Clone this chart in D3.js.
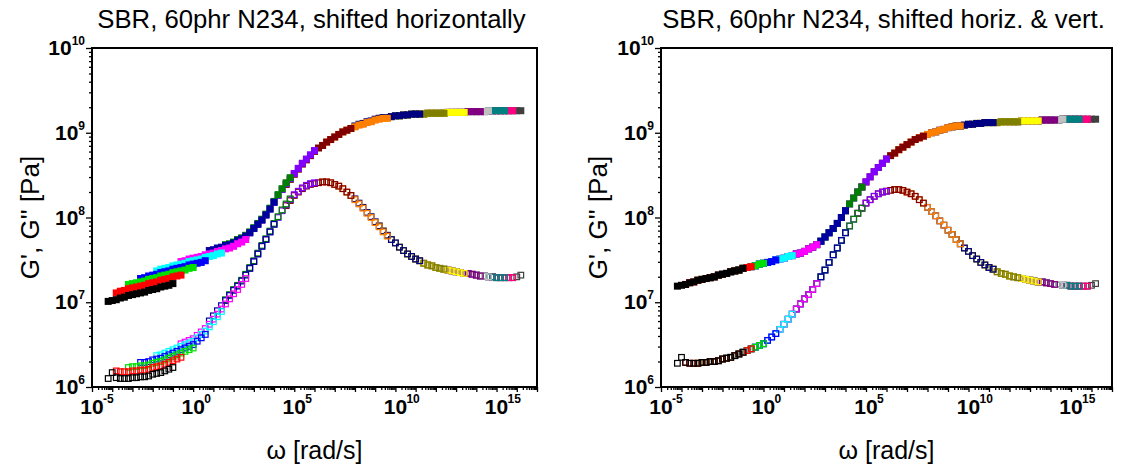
<!DOCTYPE html>
<html>
<head>
<meta charset="utf-8">
<script src="https://cdn.jsdelivr.net/npm/d3@7"></script>
<style>
  body { margin: 0; background: #fff; }
  svg { display: block; font-family: Arial, "Liberation Sans", sans-serif; }
</style>
</head>
<body>
<div id="chart"></div>
<script>
// measured frequencies, log10(rad/s), 5 points per decade
const logFreq = [-1.2, -1.0, -0.8, -0.6, -0.4, -0.2, 0.0, 0.2, 0.4, 0.6, 0.8, 1.0, 1.2, 1.4, 1.6, 1.8, 2.0];

// one segment per temperature
const segColors = ["#000000", "#ff0000", "#00e000", "#0000ff", "#00ffff", "#ff00ff", "#0000a0",
    "#008000", "#8000ff", "#800000", "#ff8000", "#000080", "#808000", "#ffff00",
    "#800080", "#c0c0c0", "#008080", "#ff0080", "#404040"];
// horizontal shift factor log(aT)
const logAT = [-3.0, -2.6, -2.0, -1.4, -0.6, 0.6, 2.0, 2.8, 4.0, 5.8, 7.6, 9.2, 10.4, 11.4, 12.2, 12.6, 13.4, 13.8, 14.2];
// vertical offset of the horizontally-only shifted data, log(1/bT)
const logBT = [-0.18, -0.10, -0.05, -0.01, 0.03, 0.06, 0.10, 0.11, 0.10, 0.09, 0.09, 0.10, 0.10, 0.10, 0.10, 0.10, 0.10, 0.10, 0.10];

// master curve (shifted horiz. & vert.), log values on the reduced frequency grid
const gridStart = -4.2, gridStep = 0.2;
const logStorage = [
    7.19, 7.20, 7.21, 7.23, 7.24, 7.26, 7.27, 7.28, 7.29, 7.30,
    7.32, 7.33, 7.34, 7.36, 7.37, 7.38, 7.40, 7.41, 7.42, 7.43,
    7.45, 7.46, 7.47, 7.48, 7.50, 7.51, 7.52, 7.54, 7.55, 7.57,
    7.58, 7.60, 7.63, 7.65, 7.68, 7.72, 7.77, 7.82, 7.87, 7.93,
    8.00, 8.08, 8.16, 8.23, 8.30, 8.36, 8.42, 8.48, 8.54, 8.59,
    8.64, 8.69, 8.73, 8.76, 8.80, 8.83, 8.86, 8.89, 8.92, 8.94,
    8.96, 8.98, 9.00, 9.01, 9.03, 9.04, 9.06, 9.07, 9.08, 9.08,
    9.09, 9.10, 9.10, 9.11, 9.11, 9.12, 9.12, 9.12, 9.12, 9.13,
    9.13, 9.13, 9.13, 9.13, 9.14, 9.14, 9.14, 9.14, 9.14, 9.15,
    9.15, 9.15, 9.15, 9.15, 9.16, 9.16, 9.16, 9.16, 9.16, 9.16,
    9.16, 9.16, 9.16];
const logLoss = [
    6.28, 6.35, 6.29, 6.28, 6.28, 6.28, 6.29, 6.29, 6.30, 6.30,
    6.31, 6.33, 6.34, 6.35, 6.37, 6.39, 6.41, 6.43, 6.45, 6.47,
    6.49, 6.51, 6.55, 6.59, 6.63, 6.68, 6.74, 6.80, 6.86, 6.92,
    6.98, 7.04, 7.09, 7.15, 7.22, 7.30, 7.38, 7.47, 7.56, 7.64,
    7.73, 7.82, 7.90, 7.98, 8.05, 8.11, 8.17, 8.21, 8.25, 8.28,
    8.30, 8.31, 8.32, 8.33, 8.33, 8.32, 8.30, 8.28, 8.25, 8.21,
    8.17, 8.12, 8.07, 8.02, 7.96, 7.91, 7.85, 7.80, 7.74, 7.69,
    7.64, 7.60, 7.55, 7.51, 7.47, 7.44, 7.41, 7.39, 7.36, 7.34,
    7.33, 7.31, 7.30, 7.29, 7.28, 7.27, 7.26, 7.25, 7.24, 7.24,
    7.23, 7.22, 7.21, 7.21, 7.20, 7.20, 7.19, 7.19, 7.19, 7.19,
    7.19, 7.20, 7.22];

const xDecades = d3.range(-5, 18);
const xLabelled = [-5, 0, 5, 10, 15];
const yDecades = [6, 7, 8, 9, 10];

const panels = [
    { left: 92, right: 537, title: "SBR, 60phr N234, shifted horizontally", vertical: false, ylabX: 30 },
    { left: 661, right: 1112, title: "SBR, 60phr N234, shifted horiz. & vert.", vertical: true, ylabX: 598 }
];
const plotTop = 48, plotBottom = 387;

const svg = d3.select("#chart").append("svg")
    .attr("width", 1121)
    .attr("height", 468);

panels.forEach(function(p) {
    const x = d3.scaleLog().domain([1e-5, 1e17]).range([p.left, p.right]);
    const y = d3.scaleLog().domain([1e6, 1e10]).range([plotBottom, plotTop]);
    const g = svg.append("g");

    // build the points of each temperature segment
    const segs = segColors.map(function(c, i) {
        return logFreq.map(function(f) {
            const w = f + logAT[i];
            const k = Math.round((w - gridStart) / gridStep);
            const off = p.vertical ? 0 : logBT[i];
            return { w: w, gp: logStorage[k] + off, gpp: logLoss[k] + off };
        });
    });

    // earlier (colder) segments end up on top
    for (let i = segs.length - 1; i >= 0; i--) {
        g.append("g").selectAll("rect")
            .data(segs[i]).join("rect")
            .attr("x", d => x(Math.pow(10, d.w)) - 2.8)
            .attr("y", d => y(Math.pow(10, d.gpp)) - 2.8)
            .attr("width", 5.6).attr("height", 5.6)
            .attr("fill", "none")
            .attr("stroke", segColors[i])
            .attr("stroke-width", 1.2);
    }
    for (let i = segs.length - 1; i >= 0; i--) {
        g.append("g").selectAll("rect")
            .data(segs[i]).join("rect")
            .attr("x", d => x(Math.pow(10, d.w)) - 3.5)
            .attr("y", d => y(Math.pow(10, d.gp)) - 3.5)
            .attr("width", 7).attr("height", 7)
            .attr("fill", segColors[i]);
    }

    // x ticks
    const minorX = [];
    xDecades.forEach(function(d) {
        if (d < 17) for (let m = 2; m < 10; m++) minorX.push(m * Math.pow(10, d));
    });
    g.append("g").attr("transform", `translate(0,${plotBottom})`)
        .call(d3.axisBottom(x).tickValues(minorX).tickSize(3).tickFormat(""))
        .call(a => a.select(".domain").remove());
    g.append("g").attr("transform", `translate(0,${plotBottom})`)
        .call(d3.axisBottom(x).tickValues(xDecades.map(d => Math.pow(10, d))).tickSize(5).tickFormat(""))
        .call(a => a.select(".domain").remove());

    xLabelled.forEach(function(d) {
        const px = x(Math.pow(10, d));
        g.append("text").attr("x", px).attr("y", 414)
            .attr("text-anchor", "middle")
            .attr("font-size", 21).attr("font-weight", "bold")
            .text("10");
        g.append("text").attr("x", px + 11).attr("y", 403)
            .attr("font-size", 12).attr("font-weight", "bold")
            .text(d);
    });

    // y ticks
    const minorY = [];
    yDecades.forEach(function(d) {
        if (d < 10) for (let m = 2; m < 10; m++) minorY.push(m * Math.pow(10, d));
    });
    g.append("g").attr("transform", `translate(${p.left},0)`)
        .call(d3.axisLeft(y).tickValues(minorY).tickSize(3).tickFormat(""))
        .call(a => a.select(".domain").remove());
    g.append("g").attr("transform", `translate(${p.left},0)`)
        .call(d3.axisLeft(y).tickValues(yDecades.map(d => Math.pow(10, d))).tickSize(6).tickFormat(""))
        .call(a => a.select(".domain").remove());
    g.selectAll(".tick line").attr("stroke", "#000").attr("stroke-width", 1.3);

    yDecades.forEach(function(d) {
        const py = y(Math.pow(10, d));
        const t = g.append("text").attr("x", p.left - 7).attr("y", py + 7)
            .attr("text-anchor", "end").attr("font-weight", "bold");
        t.append("tspan").attr("font-size", 21).text("10");
        t.append("tspan").attr("font-size", 12).attr("dy", -10).text(d);
    });

    // frame
    g.append("rect")
        .attr("x", p.left).attr("y", plotTop)
        .attr("width", p.right - p.left).attr("height", plotBottom - plotTop)
        .attr("fill", "none").attr("stroke", "#000").attr("stroke-width", 2);

    // titles and axis labels
    g.append("text").attr("x", (p.left + p.right) / 2 - 3).attr("y", 28)
        .attr("text-anchor", "middle").attr("font-size", 25.7)
        .text(p.title);
    g.append("text").attr("x", (p.left + p.right) / 2).attr("y", 459)
        .attr("text-anchor", "middle").attr("font-size", 25)
        .text("ω [rad/s]");
    g.append("text")
        .attr("transform", `translate(${p.ylabX + 9},${(plotTop + plotBottom) / 2}) rotate(-90)`)
        .attr("text-anchor", "middle").attr("font-size", 26)
        .text("G', G'' [Pa]");
});
</script>
</body>
</html>
